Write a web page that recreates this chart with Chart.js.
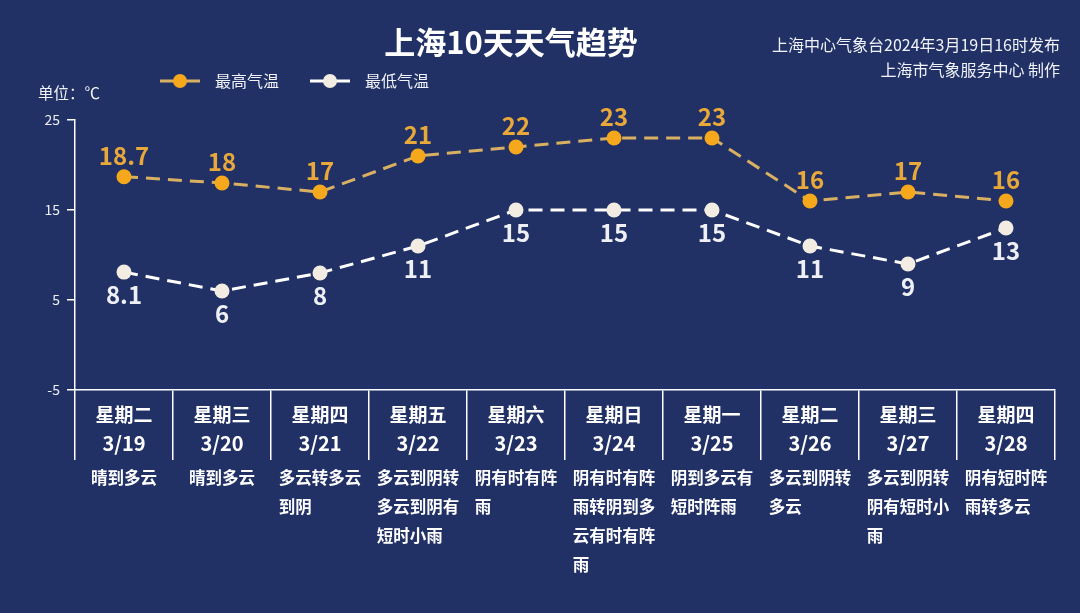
<!DOCTYPE html>
<html>
<head>
<meta charset="utf-8">
<script src="https://cdn.jsdelivr.net/npm/chart.js@4/dist/chart.umd.min.js"></script>
<style>
  html, body { margin: 0; padding: 0; background: #213166; }
  #wrap { width: 1080px; height: 613px; position: relative; }
</style>
</head>
<body>
<div id="wrap"><canvas id="weatherChart" width="1080" height="613"></canvas></div>
<script>
// Data
const weekdays = ['星期二', '星期三', '星期四', '星期五', '星期六', '星期日', '星期一', '星期二', '星期三', '星期四'];
const dates = ['3/19', '3/20', '3/21', '3/22', '3/23', '3/24', '3/25', '3/26', '3/27', '3/28'];
const highTemps = [18.7, 18, 17, 21, 22, 23, 23, 16, 17, 16];
const lowTemps = [8.1, 6, 8, 11, 15, 15, 15, 11, 9, 13];
const weatherText = [
  ['晴到多云'],
  ['晴到多云'],
  ['多云转多云', '到阴'],
  ['多云到阴转', '多云到阴有', '短时小雨'],
  ['阴有时有阵', '雨'],
  ['阴有时有阵', '雨转阴到多', '云有时有阵', '雨'],
  ['阴到多云有', '短时阵雨'],
  ['多云到阴转', '多云'],
  ['多云到阴转', '阴有短时小', '雨'],
  ['阴有短时阵', '雨转多云']
];
const yTicks = [25, 15, 5, -5];

const FONT = '"Microsoft YaHei", "Noto Sans CJK SC", "Noto Sans", sans-serif';
const orange = '#f5a81c';
const orangeLine = '#d9b062';
const orangeLabel = '#e8a83a';
const white = '#f3ece3';

// Draws title, legend, value labels and the text under the x axis
const decorations = {
  id: 'decorations',
  afterDatasetsDraw(chart) {
    const c = chart.ctx;
    const xs = chart.scales.x;
    const ys = chart.scales.y;
    c.save();

    // value labels
    c.font = 'bold 24px ' + FONT;
    c.textAlign = 'center';
    highTemps.forEach((v, i) => {
      c.fillStyle = orangeLabel;
      c.textBaseline = 'bottom';
      c.fillText(String(v), xs.getPixelForValue(i), ys.getPixelForValue(v) - 9);
    });
    lowTemps.forEach((v, i) => {
      c.fillStyle = '#eef0f5';
      c.textBaseline = 'top';
      c.fillText(String(v), xs.getPixelForValue(i), ys.getPixelForValue(v) + 11);
    });
    c.restore();
  },
  afterDraw(chart) {
    const c = chart.ctx;
    const xs = chart.scales.x;
    c.save();

    // title
    c.fillStyle = '#ffffff';
    c.font = 'bold 31px ' + FONT;
    c.textAlign = 'center';
    c.textBaseline = 'middle';
    c.fillText('上海10天天气趋势', 511, 42);

    // right side notes
    c.font = '16px ' + FONT;
    c.textAlign = 'right';
    c.fillStyle = '#f0f2f8';
    c.fillText('上海中心气象台2024年3月19日16时发布', 1060, 45);
    c.fillText('上海市气象服务中心 制作', 1060, 70);

    // unit
    c.textAlign = 'left';
    c.font = '15.5px ' + FONT;
    c.fillText('单位：℃', 38, 93);

    // legend
    const items = [
      { x: 160, text: '最高气温', line: orangeLine, dot: orange },
      { x: 310, text: '最低气温', line: '#ffffff', dot: white }
    ];
    items.forEach(it => {
      c.strokeStyle = it.line;
      c.lineWidth = 3;
      c.beginPath();
      c.moveTo(it.x, 81);
      c.lineTo(it.x + 40, 81);
      c.stroke();
      c.fillStyle = it.dot;
      c.beginPath();
      c.arc(it.x + 20, 81, 7, 0, Math.PI * 2);
      c.fill();
      c.fillStyle = '#f0f2f8';
      c.font = '16px ' + FONT;
      c.textAlign = 'left';
      c.fillText(it.text, it.x + 55, 81);
    });

    // weekday / date / weather text under the axis
    weekdays.forEach((w, i) => {
      const cx = xs.getPixelForValue(i);
      c.fillStyle = '#ffffff';
      c.textAlign = 'center';
      c.font = 'bold 19px ' + FONT;
      c.fillText(w, cx, 415);
      c.font = 'bold 20px ' + FONT;
      c.fillText(dates[i], cx, 443);

      c.font = 'bold 16.5px ' + FONT;
      const lines = weatherText[i];
      const maxW = Math.max(...lines.map(l => c.measureText(l).width));
      c.textAlign = 'left';
      lines.forEach((l, j) => {
        c.fillText(l, cx - maxW / 2, 478 + j * 29);
      });
    });
    c.restore();
  }
};

const ctx = document.getElementById('weatherChart').getContext('2d');
const weatherChart = new Chart(ctx, {
  type: 'line',
  data: {
    labels: dates,
    datasets: [{
      label: '最高气温',
      data: highTemps,
      borderColor: orangeLine,
      backgroundColor: orange,
      pointBackgroundColor: orange,
      pointBorderWidth: 0,
      pointRadius: 7.5,
      borderWidth: 3,
      borderDash: [14, 8],
      fill: false
    }, {
      label: '最低气温',
      data: lowTemps,
      borderColor: '#ffffff',
      backgroundColor: white,
      pointBackgroundColor: white,
      pointBorderWidth: 0,
      pointRadius: 7.5,
      borderWidth: 3,
      borderDash: [14, 8],
      fill: false
    }]
  },
  options: {
    responsive: false,
    animation: false,
    layout: { padding: { left: 35, right: 25, top: 120, bottom: 153 } },
    plugins: {
      legend: { display: false },
      tooltip: { enabled: false }
    },
    scales: {
      x: {
        offset: true,
        afterFit(scale) { scale.height = 70; },
        grid: {
          drawOnChartArea: false,
          offset: true,
          color: '#ffffff',
          lineWidth: 1.5,
          tickLength: 70
        },
        border: { color: '#ffffff', width: 1.5 },
        ticks: { display: false }
      },
      y: {
        min: -5,
        max: 25,
        afterFit(scale) { scale.width = 40; },
        afterBuildTicks(scale) { scale.ticks = yTicks.map(v => ({ value: v })); },
        grid: {
          drawOnChartArea: false,
          color: '#ffffff',
          lineWidth: 1.5,
          tickLength: 8
        },
        border: { color: '#ffffff', width: 1.5 },
        ticks: {
          color: '#eef0f5',
          padding: 7,
          font: { size: 14, family: FONT }
        }
      }
    }
  },
  plugins: [decorations]
});
</script>
</body>
</html>
